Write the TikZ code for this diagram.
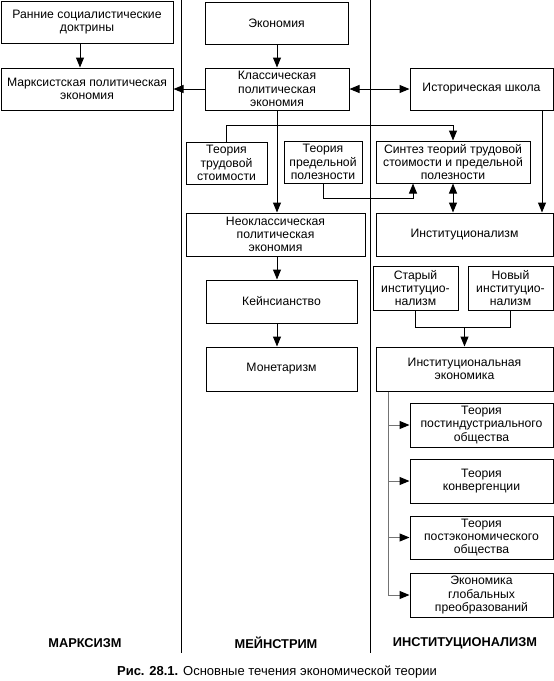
\documentclass[tikz,border=0pt]{standalone}
\usepackage{fontspec}
\setmainfont{Liberation Sans}
\usetikzlibrary{arrows.meta}
\begin{document}
\begin{tikzpicture}[x=1pt,y=-1pt,
  box/.style={draw, line width=1pt, align=center, inner sep=0pt, font=\fontsize{12.2}{13.3}\selectfont},
  arr/.style={-{Triangle[length=10pt,width=8pt]}, line width=1pt},
  darr/.style={{Triangle[length=10pt,width=8pt]}-{Triangle[length=10pt,width=8pt]}, line width=1pt},
  ln/.style={line width=1pt},
  tree/.style={line width=1pt, draw=black!55},
  treearr/.style={line width=1pt, draw=black!55, -{Triangle[length=10pt,width=8pt,color=black]}},
  sepline/.style={line width=1pt},
  col/.style={font=\fontsize{12.8}{14}\selectfont\bfseries},
]
\useasboundingbox (0,0) rectangle (554,681);

% separators
\draw[sepline] (181,0) -- (181,653);
\draw[sepline] (370,0) -- (370,653);

% left column
\node[box, minimum width=172pt, minimum height=42pt] (ran) at (87,22) {Ранние социалистические\\доктрины};
\node[box, minimum width=172pt, minimum height=42pt] (marx) at (87,89) {Марксистская политическая\\экономия};

% middle column
\node[box, minimum width=143pt, minimum height=42pt] (econ) at (276.5,23) {Экономия};
\node[box, minimum width=144pt, minimum height=42pt] (class) at (277,89) {Классическая\\политическая\\экономия};
\node[box, minimum width=81pt, minimum height=42pt] (labor) at (226.5,163) {Теория\\трудовой\\стоимости};
\node[box, minimum width=78pt, minimum height=42pt] (marg) at (323,162) {Теория\\предельной\\полезности};
\node[box, minimum width=179pt, minimum height=43pt] (neo) at (275.5,234.5) {Неоклассическая\\политическая\\экономия};
\node[box, minimum width=151pt, minimum height=43pt] (keyn) at (281.5,301.5) {Кейнсианство};
\node[box, minimum width=151pt, minimum height=44pt] (mon) at (281.5,369) {Монетаризм};

% right column
\node[box, minimum width=143pt, minimum height=42pt] (hist) at (481.5,89) {Историческая школа};
\node[box, minimum width=154pt, minimum height=42pt] (synth) at (453,162) {Синтез теорий трудовой\\стоимости и предельной\\полезности};
\node[box, minimum width=177pt, minimum height=43pt] (inst) at (464.5,234.5) {Институционализм};
\node[box, minimum width=85pt, minimum height=44pt] (old) at (415.5,288) {Старый\\институцио-\\нализм};
\node[box, minimum width=85pt, minimum height=44pt] (new) at (510.5,288) {Новый\\институцио-\\нализм};
\node[box, minimum width=177pt, minimum height=44pt] (ie) at (464.5,369) {Институциональная\\экономика};
\node[box, minimum width=143pt, minimum height=44pt] (t1) at (481.5,425) {Теория\\постиндустриального\\общества};
\node[box, minimum width=143pt, minimum height=44pt] (t2) at (481.5,481) {Теория\\конвергенции};
\node[box, minimum width=143pt, minimum height=43pt] (t3) at (481.5,537.5) {Теория\\постэкономического\\общества};
\node[box, minimum width=143pt, minimum height=44pt] (t4) at (481.5,595) {Экономика\\глобальных\\преобразований};

% helper coordinates
\coordinate (tb) at (0,125);
\coordinate (mb) at (413,198);
\coordinate (hx) at (542,0);
\coordinate (mx) at (277,0);
\coordinate (oj) at (0,327);
\coordinate (gx) at (388,0);
\coordinate (rx) at (80,0);

% connectors
\draw[arr] (ran.south -| rx) -- (marx.north -| rx);
\draw[arr] (econ.south -| mx) -- (class.north -| mx);
\draw[arr] (class.west) -- (marx.east);
\draw[darr] (class.east) -- (hist.west);
\draw[arr] (class.south -| mx) -- (neo.north -| mx);
\draw[arr] (labor.north) -- (labor.north |- tb) -| (synth.north);
\draw[arr] (marg.south) |- (mb) -- (mb |- synth.south);
\draw[darr] (synth.south) -- (synth.south |- inst.north);
\draw[arr] (hist.south -| hx) -- (inst.north -| hx);
\draw[arr] (neo.south -| mx) -- (keyn.north -| mx);
\draw[arr] (keyn.south -| mx) -- (mon.north -| mx);
\draw[ln] (old.south) -- (old.south |- oj) -- (new.south |- oj) -- (new.south);
\draw[arr] (ie.north |- oj) -- (ie.north);
\draw[tree] (ie.south -| gx) -- (t4.west -| gx);
\draw[treearr] (t1.west -| gx) -- (t1.west);
\draw[treearr] (t2.west -| gx) -- (t2.west);
\draw[treearr] (t3.west -| gx) -- (t3.west);
\draw[treearr] (t4.west -| gx) -- (t4.west);

% column labels
\node[col] (lm) at (85,643) {МАРКСИЗМ};
\node[col] (lms) at (276,643) {МЕЙНСТРИМ};
\node[col] (li) at (465,643) {ИНСТИТУЦИОНАЛИЗМ};

% caption
\node[font=\fontsize{13}{15}\selectfont] (cap) at (277,672) {\textbf{Рис. 28.1.} Основные течения экономической теории};
\end{tikzpicture}
\end{document}
